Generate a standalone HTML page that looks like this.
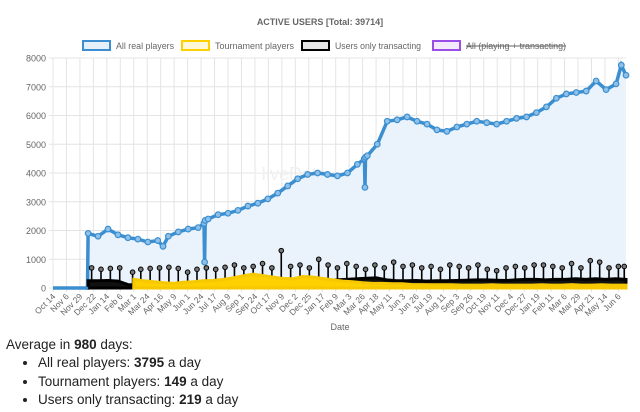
<!DOCTYPE html>
<html><head><meta charset="utf-8"><style>
body{margin:0;background:#fff;width:640px;height:412px;overflow:hidden;font-family:"Liberation Sans",sans-serif}
#info{position:absolute;left:6px;top:337px;font-size:13.5px;color:#222}
#info ul{margin:2px 0 0 0;padding-left:32px}
#info li{line-height:18.5px}
</style></head><body>
<svg id="chart" width="640" height="336" style="position:absolute;left:0;top:0" font-family="Liberation Sans, sans-serif"></svg>
<div id="info">
<div>Average in <b>980</b> days:</div>
<ul>
<li>All real players: <b>3795</b> a day</li>
<li>Tournament players: <b>149</b> a day</li>
<li>Users only transacting: <b>219</b> a day</li>
</ul></div>
<script>
const xLabels=["Oct 14","Nov 6","Nov 29","Dec 22","Jan 14","Feb 6","Mar 1","Mar 24","Apr 16","May 9","Jun 1","Jun 24","Jul 17","Aug 9","Sep 1","Sep 24","Oct 17","Nov 9","Dec 2","Dec 25","Jan 17","Feb 9","Mar 3","Mar 26","Apr 18","May 11","Jun 3","Jun 26","Jul 19","Aug 11","Sep 3","Sep 26","Oct 19","Nov 11","Dec 4","Dec 27","Jan 19","Feb 11","Mar 6","Mar 29","Apr 21","May 14","Jun 6"];
const yTicks=[0,1000,2000,3000,4000,5000,6000,7000,8000];
const allDays=[0,59,60,77,94,111,128,145,162,179,188,197,214,231,248,258,259,260,265,282,299,316,333,350,367,384,401,418,435,452,469,486,503,520,532,533,534,537,554,571,588,605,622,639,656,673,690,707,724,741,758,775,792,809,826,843,860,877,894,911,928,945,962,971,979];
const allValues=[0,0,1900,1800,2050,1850,1750,1700,1600,1650,1450,1800,1950,2050,2100,2250,900,2350,2400,2550,2600,2700,2850,2950,3100,3300,3550,3800,3950,4000,3950,3900,4000,4300,4500,3500,4550,4600,5000,5800,5850,5950,5800,5700,5500,5450,5600,5700,5800,5750,5700,5800,5900,5950,6100,6300,6600,6750,6800,6850,7200,6900,7100,7750,7400];
const tourDays=[138,155,172,189,206,223,240,257,274,291,308,325,342,359,376,393,410,427,444,461,478,495,512,529,546,563,580,597,614,631,648,665,682,699,716,733,750,767,784,801,818,835,852,869,886,903,920,937,954,979];
const tourValues=[300,250,220,180,160,200,220,250,260,300,350,420,480,430,380,330,320,400,380,330,280,240,220,180,160,160,150,150,120,120,110,110,110,100,100,100,110,100,100,100,100,110,100,100,120,100,100,110,100,100];
const txDays=[60,77,94,111,128,145,162,179,196,213,230,247,264,281,298,315,332,349,366,383,400,417,434,451,468,485,502,519,536,553,570,587,604,621,638,655,672,689,706,723,740,757,774,791,808,825,842,859,876,893,910,927,944,961,979];
const txValues=[250,250,260,240,120,100,120,130,150,160,170,180,150,160,200,220,230,250,260,300,300,320,280,260,250,280,300,320,340,350,280,250,250,260,240,250,250,260,270,280,280,270,260,280,300,300,280,300,300,320,300,320,300,320,300];
const spikeDays=[66,82,98,114,136,150,166,182,198,214,230,246,262,278,294,310,326,342,358,374,390,406,422,438,454,470,486,502,518,534,550,566,582,598,614,630,646,662,678,694,710,726,742,758,774,790,806,822,838,854,870,886,902,918,934,950,966,976];
const spikeValues=[700,650,680,700,550,650,680,700,720,680,550,650,700,650,720,800,700,750,850,700,1300,750,800,700,1000,800,700,850,750,650,800,700,900,750,800,700,750,650,800,750,700,800,650,600,700,750,700,800,800,750,700,850,700,950,900,700,750,750];

const svg=document.getElementById('chart');const NS='http://www.w3.org/2000/svg';
const L=53,R=626,T=58,B=288,N=979;
const xs=d=>L+d*(R-L)/N, ys=v=>B-v*(B-T)/8000;
function mk(tag,attrs,parent){const e=document.createElementNS(NS,tag);for(const k in attrs)e.setAttribute(k,attrs[k]);(parent||svg).appendChild(e);return e;}

let t=mk('text',{x:320,y:25,'text-anchor':'middle','font-size':9,'font-weight':'bold',fill:'#666'});t.textContent='ACTIVE USERS [Total: 39714]';



const leg=[['All real players','#3b8fd0','#e6f0fa',83,58,false],['Tournament players','#ffd000','#fff8d8',182,79,false],['Users only transacting','#000','#e6e6e6',302,86,false],['All (playing + transacting)','#9b4de8','#f2eafc',433,100,true]];
leg.forEach(l=>{const g=mk('g',{});


mk('rect',{x:l[3],y:41,width:27,height:9,fill:l[2],stroke:l[1],'stroke-width':2},g);
const tx=mk('text',{x:l[3]+33,y:49,'font-size':9,fill:'#666',textLength:l[4],lengthAdjust:'spacingAndGlyphs'},g);tx.textContent=l[0];
if(l[5]){mk('line',{x1:l[3]+33,y1:46,x2:l[3]+33+l[4],y2:46,stroke:'#666','stroke-width':1},g);}});

yTicks.forEach(v=>{const y=ys(v);
const gl=mk('line',{x1:L-4,y1:y,x2:R,y2:y,stroke:'#e4e4e4'});


const tx=mk('text',{x:L-7,y:y+3.5,'text-anchor':'end','font-size':9,fill:'#666'});tx.textContent=v;

});
xLabels.forEach((s,i)=>{const x=xs(i*23);
const gl=mk('line',{x1:x,y1:T,x2:x,y2:B+4,stroke:'#e4e4e4'});


const tx=mk('text',{x:x+3,y:B+9,'text-anchor':'end','font-size':8.5,fill:'#666',transform:`rotate(-45 ${x+3} ${B+9})`});tx.textContent=s;

});
let dt=mk('text',{x:340,y:330,'text-anchor':'middle','font-size':9,fill:'#666'});dt.textContent='Date';


let wm=mk('text',{x:290,y:180,'text-anchor':'middle','font-size':18,fill:'#f0f0f0'});wm.textContent='HiveData';



function pts(d,v){return d.map((x,i)=>xs(x).toFixed(1)+','+ys(v[i]).toFixed(1)).join(' ');}
let a=mk('polygon',{points:pts(allDays,allValues)+` ${xs(N)},${B} ${xs(0)},${B}`,fill:'#eaf2fb'});


let al=mk('polyline',{points:pts(allDays,allValues),fill:'none',stroke:'#3b8fd0','stroke-width':3.5});


allDays.forEach((d,i)=>{if(allValues[i]>0){const c=mk('circle',{cx:xs(d),cy:ys(allValues[i]),r:2.8,fill:'#8fc0e8',stroke:'#3b8fd0','stroke-width':1.2});

}});
spikeDays.forEach((d,i)=>{const x=xs(d);
const s=mk('line',{x1:x,y1:B,x2:x,y2:ys(spikeValues[i]),stroke:'#000','stroke-width':1.6});


const c=mk('circle',{cx:x,cy:ys(spikeValues[i]),r:2.3,fill:'#777',stroke:'#000','stroke-width':1});

});
let ta=mk('polygon',{points:pts(txDays,txValues)+` ${xs(N)},${B} ${xs(60)},${B}`,fill:'#111',stroke:'#000','stroke-width':3});


let ya=mk('polygon',{points:pts(tourDays,tourValues)+` ${xs(N)},${B} ${xs(138)},${B}`,fill:'#ffd000',stroke:'#f5c800','stroke-width':3});


let bl=mk('polyline',{points:`${xs(0)},${B} ${xs(60)},${B}`,stroke:'#3b8fd0','stroke-width':2.5});


</script>
</body></html>
